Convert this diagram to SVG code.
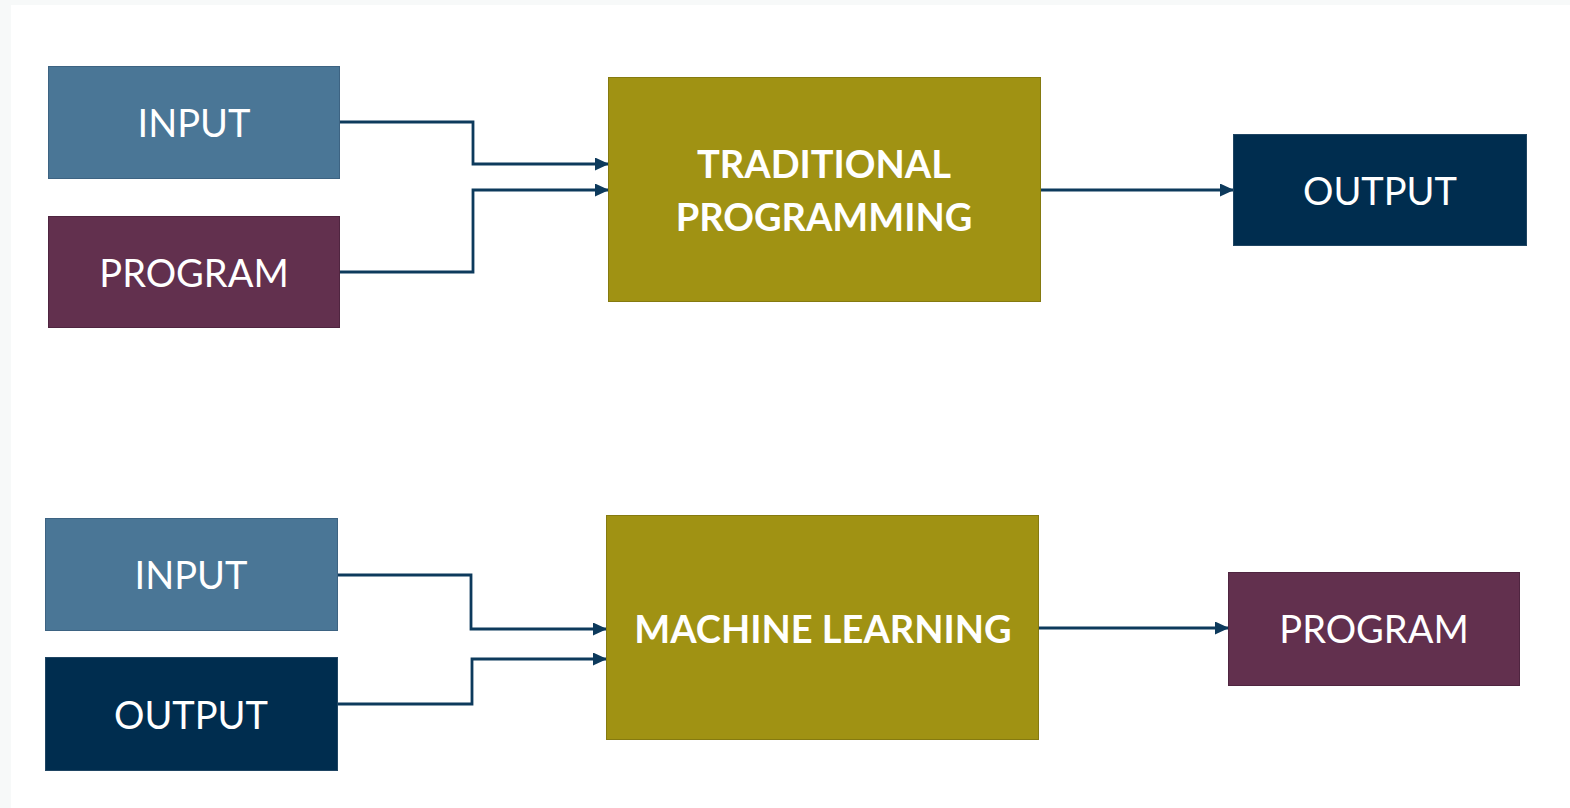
<svg xmlns="http://www.w3.org/2000/svg" width="1570" height="808" viewBox="0 0 1570 808">
  <style>
    .box { stroke-width: 1; }
    .in { fill: #4a7696; stroke: #3d6382; }
    .prog { fill: #62304e; stroke: #4f2540; }
    .out { fill: #002d4f; stroke: #1f4563; }
    .core { fill: #a09213; stroke: #857a10; }
    .lbl { font-family: Lato, "Open Sans", sans-serif; font-size: 38px; fill: #ffffff; text-anchor: middle; }
    .big { font-family: Lato, "Open Sans", sans-serif; font-size: 38px; font-weight: bold; fill: #ffffff; text-anchor: middle; }
    .wire { fill: none; stroke: #0d3a5c; stroke-width: 2.8; marker-end: url(#arrow); }
  </style>
  <defs>
    <marker id="arrow" markerWidth="14" markerHeight="13" refX="13" refY="6.5" orient="auto" markerUnits="userSpaceOnUse" viewBox="0 0 14 13">
      <path d="M0,0 L14,6.5 L0,13 Z" fill="#0d3a5c"/>
    </marker>
  </defs>

  <!-- page -->
  <rect x="0" y="0" width="1570" height="808" fill="#f7f9f9"/>
  <rect x="11" y="5" width="1559" height="803" fill="#ffffff"/>

  <!-- connectors -->
  <g id="connectors">
    <path class="wire" d="M340,122 H473 V164 H608"/>
    <path class="wire" d="M340,272 H473 V190 H608"/>
    <path class="wire" d="M1041,190 H1233"/>
    <path class="wire" d="M338,575 H471 V629 H606"/>
    <path class="wire" d="M338,704 H472 V659 H606"/>
    <path class="wire" d="M1039,628 H1228"/>
  </g>

  <!-- traditional programming row -->
  <g id="tp-input">
    <rect class="box in" x="48.5" y="66.5" width="291" height="112"/>
    <text class="lbl" x="194" y="137">INPUT</text>
  </g>
  <g id="tp-program">
    <rect class="box prog" x="48.5" y="216.5" width="291" height="111"/>
    <text class="lbl" x="194" y="287">PROGRAM</text>
  </g>
  <g id="tp-core">
    <rect class="box core" x="608.5" y="77.5" width="432" height="224"/>
    <text class="big" x="824" y="178">TRADITIONAL</text>
    <text class="big" x="824" y="231">PROGRAMMING</text>
  </g>
  <g id="tp-output">
    <rect class="box out" x="1233.5" y="134.5" width="293" height="111"/>
    <text class="lbl" x="1380" y="205">OUTPUT</text>
  </g>

  <!-- machine learning row -->
  <g id="ml-input">
    <rect class="box in" x="45.5" y="518.5" width="292" height="112"/>
    <text class="lbl" x="191" y="589">INPUT</text>
  </g>
  <g id="ml-output">
    <rect class="box out" x="45.5" y="657.5" width="292" height="113"/>
    <text class="lbl" x="191" y="729">OUTPUT</text>
  </g>
  <g id="ml-core">
    <rect class="box core" x="606.5" y="515.5" width="432" height="224"/>
    <text class="big" x="823" y="643">MACHINE LEARNING</text>
  </g>
  <g id="ml-program">
    <rect class="box prog" x="1228.5" y="572.5" width="291" height="113"/>
    <text class="lbl" x="1374" y="643">PROGRAM</text>
  </g>
</svg>
